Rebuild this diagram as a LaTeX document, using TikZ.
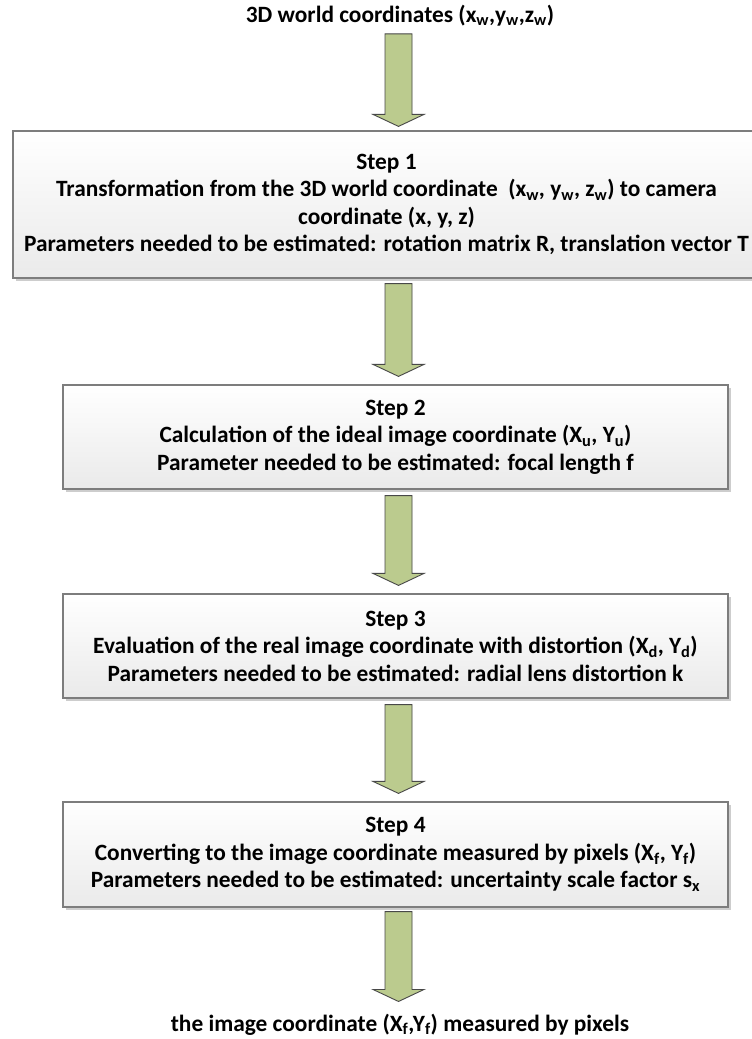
\documentclass[tikz,border=0pt]{standalone}
\usepackage{fontspec}
\setmainfont{Carlito}
\usetikzlibrary{calc,shadows}

\definecolor{boxline}{RGB}{125,125,125}
\definecolor{boxbot}{RGB}{234,234,234}
\definecolor{shadegray}{RGB}{205,205,205}
\definecolor{arrowfill}{RGB}{187,203,142}
\definecolor{arrowline}{RGB}{72,72,72}

\newlength\widestline

% Block arrow (straight, pointing down) between two named coordinates
\newcommand\blockarrow[2]{%
  \fill[shadegray, xshift=2bp, yshift=-2bp] let \p1=(#1), \p2=(#2) in
    ({\x1-13.5bp},\y1) -- ({\x1+13.5bp},\y1) -- ({\x2+13.5bp},{\y2+12bp})
    -- ({\x2+25.5bp},{\y2+12bp}) -- (\x2,\y2) -- ({\x2-25.5bp},{\y2+12bp})
    -- ({\x2-13.5bp},{\y2+12bp}) -- cycle;
  \draw[blockarrowstyle] let \p1=(#1), \p2=(#2) in
    ({\x1-13.5bp},\y1) -- ({\x1+13.5bp},\y1) -- ({\x2+13.5bp},{\y2+12bp})
    -- ({\x2+25.5bp},{\y2+12bp}) -- (\x2,\y2) -- ({\x2-25.5bp},{\y2+12bp})
    -- ({\x2-13.5bp},{\y2+12bp}) -- cycle;
}

\begin{document}
% size the text so that the longest line spans its measured width
\settowidth\widestline{\fontsize{10bp}{12bp}\selectfont\bfseries Parameters needed to be estimated: rotation matrix R, translation vector T}%
\pgfmathsetmacro\fsize{10.0375*727.42/\widestline}%
\begin{tikzpicture}[x=1bp, y=-1bp,
  every node/.append style={font=\fontsize{\fsize pt}{27.6pt}\selectfont\bfseries},
  blockarrowstyle/.style={draw=arrowline, line width=0.9bp, fill=arrowfill, line join=miter},
  stepbox/.style={draw=boxline, line width=1.2bp, top color=white, bottom color=boxbot,
    align=center, inner sep=4bp,
    drop shadow={shadow xshift=3bp, shadow yshift=-3bp, fill=shadegray, opacity=1}},
  endlabel/.style={inner sep=0pt, anchor=base, align=center}]

\useasboundingbox (0,0) rectangle (752,1039);
\fill[white] (0,0) rectangle (752,1039);

% vertical axis shared by all block arrows
\coordinate (axis) at (398.5,0);

\node[endlabel] (top) at (400,22)
  {3D world coordinates (x\textsubscript{w},y\textsubscript{w},z\textsubscript{w})};

\node[stepbox, minimum width=747bp, minimum height=147bp] (step1) at (386.5,204.5)
  {Step 1\\
   Transformation from the 3D world coordinate\ \ (x\textsubscript{w}, y\textsubscript{w}, z\textsubscript{w}) to camera\\
   coordinate (x, y, z)\\
   Parameters needed to be estimated: rotation matrix R, translation vector T};

\node[stepbox, minimum width=665bp, minimum height=104bp] (step2) at (395.5,437)
  {Step 2\\
   Calculation of the ideal image coordinate (X\textsubscript{u}, Y\textsubscript{u})\\
   Parameter needed to be estimated: focal length f};

\node[stepbox, minimum width=665bp, minimum height=104bp] (step3) at (395.5,646)
  {Step 3\\
   Evaluation of the real image coordinate with distortion (X\textsubscript{d}, Y\textsubscript{d})\\
   Parameters needed to be estimated: radial lens distortion k};

\node[stepbox, minimum width=665bp, minimum height=105bp] (step4) at (395.5,854.5)
  {Step 4\\
   Converting to the image coordinate measured by pixels (X\textsubscript{f}, Y\textsubscript{f})\\
   Parameters needed to be estimated: uncertainty scale factor s\textsubscript{x}};

\node[endlabel] (bottom) at (400,1031)
  {the image coordinate (X\textsubscript{f},Y\textsubscript{f}) measured by pixels};

% arrow end points, offset from the boxes they join
\coordinate (a0s) at ($(axis |- top.south)+(0,8)$);
\coordinate (a0e) at ($(axis |- step1.north)+(0,-4)$);
\coordinate (a1s) at ($(axis |- step1.south)+(0,5)$);
\coordinate (a1e) at ($(axis |- step2.north)+(0,-8)$);
\coordinate (a2s) at ($(axis |- step2.south)+(0,6)$);
\coordinate (a2e) at ($(axis |- step3.north)+(0,-8)$);
\coordinate (a3s) at ($(axis |- step3.south)+(0,6)$);
\coordinate (a3e) at ($(axis |- step4.north)+(0,-8)$);
\coordinate (a4s) at ($(axis |- step4.south)+(0,4)$);
\coordinate (a4e) at ($(axis |- bottom.north)+(0,-12)$);

\blockarrow{a0s}{a0e}
\blockarrow{a1s}{a1e}
\blockarrow{a2s}{a2e}
\blockarrow{a3s}{a3e}
\blockarrow{a4s}{a4e}
\end{tikzpicture}
\end{document}
